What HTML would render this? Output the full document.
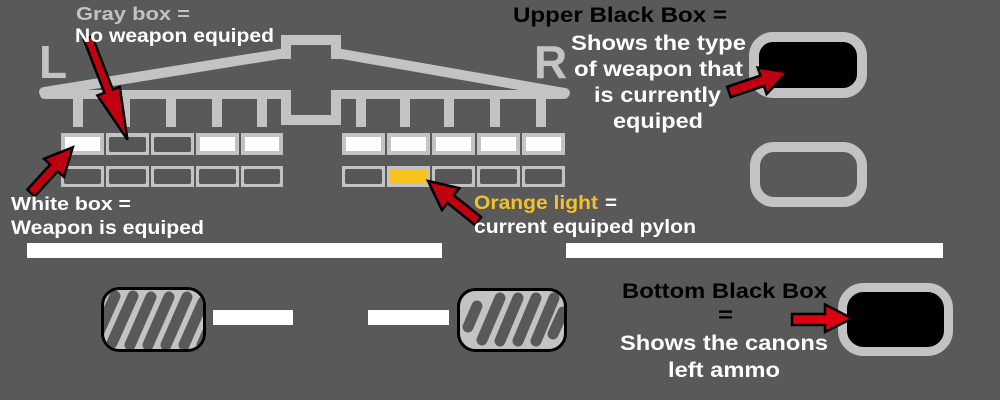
<!DOCTYPE html>
<html>
<head>
<meta charset="utf-8">
<style>
  html,body{margin:0;padding:0;background:#595959;}
  svg{display:block;}
  text{font-family:"Liberation Sans",Arial,sans-serif;font-weight:bold;}
</style>
</head>
<body>
<svg width="1000" height="400" viewBox="0 0 1000 400" xmlns="http://www.w3.org/2000/svg">
  <defs>
    <clipPath id="cl"><rect x="104" y="290" width="99" height="59" rx="15"/></clipPath>
    <clipPath id="cr"><rect x="460" y="291" width="104" height="58" rx="15"/></clipPath>
  </defs>
  <rect x="0" y="0" width="1000" height="400" fill="#595959"/>

  <!-- L / R -->
  <text x="39" y="78" font-size="46" fill="#c3c3c3">L</text>
  <text x="534" y="78" font-size="46" fill="#c3c3c3">R</text>

  <!-- pylon structure -->
  <g fill="#c3c3c3">
    <line x1="44" y1="92" x2="286" y2="53" stroke="#c3c3c3" stroke-width="10" stroke-linecap="round"/>
    <line x1="336" y1="53" x2="565" y2="93" stroke="#c3c3c3" stroke-width="10" stroke-linecap="round"/>
    <rect x="281" y="35" width="60" height="10"/>
    <rect x="281" y="35" width="10" height="24"/>
    <rect x="331" y="35" width="10" height="24"/>
    <rect x="40" y="90" width="251" height="9" rx="4.5"/>
    <rect x="331" y="90" width="238" height="9" rx="4.5"/>
    <rect x="281" y="90" width="10" height="35"/>
    <rect x="331" y="90" width="10" height="35"/>
    <rect x="281" y="115" width="60" height="10"/>
    <!-- stems -->
    <rect x="73" y="98" width="10" height="29"/>
    <rect x="120" y="98" width="10" height="29"/>
    <rect x="166" y="98" width="10" height="29"/>
    <rect x="212" y="98" width="10" height="29"/>
    <rect x="257" y="98" width="10" height="29"/>
    <rect x="356" y="98" width="10" height="29"/>
    <rect x="400" y="98" width="10" height="29"/>
    <rect x="444" y="98" width="10" height="29"/>
    <rect x="490" y="98" width="10" height="29"/>
    <rect x="536" y="98" width="10" height="29"/>
  </g>

  <!-- boxes row 1 -->
  <g>
    <rect x="61" y="133" width="43" height="22" fill="#c3c3c3"/><rect x="65" y="137" width="35" height="14" fill="#ffffff"/>
    <rect x="106" y="133" width="43" height="22" fill="#c3c3c3"/><rect x="109" y="137" width="37" height="15" rx="2" fill="#565656"/>
    <rect x="151" y="133" width="43" height="22" fill="#c3c3c3"/><rect x="154" y="137" width="37" height="15" rx="2" fill="#565656"/>
    <rect x="196" y="133" width="43" height="22" fill="#c3c3c3"/><rect x="200" y="137" width="35" height="14" fill="#ffffff"/>
    <rect x="241" y="133" width="42" height="22" fill="#c3c3c3"/><rect x="245" y="137" width="34" height="14" fill="#ffffff"/>

    <rect x="342" y="133" width="43" height="22" fill="#c3c3c3"/><rect x="346" y="137" width="35" height="14" fill="#ffffff"/>
    <rect x="387" y="133" width="43" height="22" fill="#c3c3c3"/><rect x="391" y="137" width="35" height="14" fill="#ffffff"/>
    <rect x="432" y="133" width="43" height="22" fill="#c3c3c3"/><rect x="436" y="137" width="35" height="14" fill="#ffffff"/>
    <rect x="477" y="133" width="43" height="22" fill="#c3c3c3"/><rect x="481" y="137" width="35" height="14" fill="#ffffff"/>
    <rect x="522" y="133" width="43" height="22" fill="#c3c3c3"/><rect x="526" y="137" width="35" height="14" fill="#ffffff"/>
  </g>
  <!-- boxes row 2 -->
  <g>
    <rect x="61" y="166" width="43" height="21" fill="#c3c3c3"/><rect x="64" y="169" width="37" height="15" rx="2" fill="#565656"/>
    <rect x="106" y="166" width="43" height="21" fill="#c3c3c3"/><rect x="109" y="169" width="37" height="15" rx="2" fill="#565656"/>
    <rect x="151" y="166" width="43" height="21" fill="#c3c3c3"/><rect x="154" y="169" width="37" height="15" rx="2" fill="#565656"/>
    <rect x="196" y="166" width="43" height="21" fill="#c3c3c3"/><rect x="199" y="169" width="37" height="15" rx="2" fill="#565656"/>
    <rect x="241" y="166" width="42" height="21" fill="#c3c3c3"/><rect x="244" y="169" width="36" height="15" rx="2" fill="#565656"/>

    <rect x="342" y="166" width="43" height="21" fill="#c3c3c3"/><rect x="345" y="169" width="37" height="15" rx="2" fill="#565656"/>
    <rect x="387" y="166" width="43" height="21" fill="#c3c3c3"/><rect x="390" y="169" width="37" height="15" fill="#f7c21c"/>
    <rect x="432" y="166" width="43" height="21" fill="#c3c3c3"/><rect x="435" y="169" width="37" height="15" rx="2" fill="#565656"/>
    <rect x="477" y="166" width="43" height="21" fill="#c3c3c3"/><rect x="480" y="169" width="37" height="15" rx="2" fill="#565656"/>
    <rect x="522" y="166" width="43" height="21" fill="#c3c3c3"/><rect x="525" y="169" width="37" height="15" rx="2" fill="#565656"/>
  </g>

  <!-- right boxes -->
  <rect x="754" y="37" width="108" height="56" rx="19" fill="#000" stroke="#c3c3c3" stroke-width="10"/>
  <rect x="755" y="147" width="107" height="55" rx="19" fill="none" stroke="#c3c3c3" stroke-width="10"/>
  <rect x="842.5" y="287.5" width="106" height="64" rx="21" fill="#000" stroke="#c3c3c3" stroke-width="9"/>

  <!-- white bars -->
  <rect x="27" y="243" width="415" height="15" fill="#ffffff"/>
  <rect x="566" y="243" width="377" height="15" fill="#ffffff"/>
  <rect x="213" y="310" width="80" height="15" fill="#ffffff"/>
  <rect x="368" y="310" width="81" height="15" fill="#ffffff"/>

  <!-- wheels -->
  <rect x="102.5" y="288.5" width="102" height="62" rx="17" fill="#c3c3c3" stroke="#000" stroke-width="3"/>
  <g clip-path="url(#cl)" stroke="#595959" stroke-width="11" stroke-linecap="round">
    <line x1="94" y1="343" x2="115" y2="296"/>
    <line x1="112" y1="343" x2="133" y2="296"/>
    <line x1="130" y1="345" x2="151" y2="297"/>
    <line x1="148" y1="345" x2="169" y2="297"/>
    <line x1="166" y1="345" x2="187" y2="297"/>
    <line x1="184" y1="345" x2="203" y2="302"/>
    <line x1="202" y1="345" x2="215" y2="315"/>
  </g>
  <rect x="458.5" y="289.5" width="107" height="61" rx="17" fill="#c3c3c3" stroke="#000" stroke-width="3"/>
  <g clip-path="url(#cr)" stroke="#595959" stroke-width="11" stroke-linecap="round">
    <line x1="468" y1="327" x2="477" y2="306"/>
    <line x1="482" y1="340" x2="500" y2="298"/>
    <line x1="500" y1="341" x2="518" y2="298"/>
    <line x1="518" y1="341" x2="536" y2="298"/>
    <line x1="536" y1="341" x2="554" y2="298"/>
    <line x1="553" y1="334" x2="563" y2="312"/>
  </g>

  <!-- arrows -->
  <g stroke="#000" stroke-width="2.5" stroke-linejoin="miter" fill="#bf0010">
    <!-- gray box arrow -->
    <polygon transform="translate(88,38) rotate(68.8)" points="0,-4.5 57,-4.5 57,-12 109,0 57,12 57,4.5 0,4.5"/>
    <!-- white box arrow -->
    <polygon transform="translate(31,193) rotate(-47.6)" points="0,-5 34,-5 34,-13.5 62,0 34,13.5 34,5 0,5"/>
    <!-- orange arrow -->
    <polygon transform="translate(478,221) rotate(218.7)" points="0,-5 35,-5 35,-14 64,0 35,14 35,5 0,5"/>
    <!-- upper black box arrow -->
    <polygon transform="translate(729,92) rotate(-18.7)" points="0,-5.5 35,-5.5 35,-14 62,0 35,14 35,5.5 0,5.5"/>
  </g>
  <polygon points="792,314 825,314 825,304.5 852,318.5 825,332 825,325 792,325" fill="#dd0010" stroke="#000" stroke-width="2.5"/>

  <!-- texts -->
  <text x="76" y="20" font-size="18" fill="#c3c3c3" textLength="114" lengthAdjust="spacingAndGlyphs">Gray box  =</text>
  <text x="75" y="42" font-size="19" fill="#ffffff" textLength="199" lengthAdjust="spacingAndGlyphs">No weapon equiped</text>
  <text x="11" y="210" font-size="18" fill="#ffffff" textLength="120" lengthAdjust="spacingAndGlyphs">White box =</text>
  <text x="11" y="234" font-size="19" fill="#ffffff" textLength="193" lengthAdjust="spacingAndGlyphs">Weapon is equiped</text>
  <text x="474" y="209" font-size="19" fill="#f2c12e" textLength="124" lengthAdjust="spacingAndGlyphs">Orange light</text>
  <text x="605" y="209" font-size="19" fill="#ffffff" textLength="12" lengthAdjust="spacingAndGlyphs">=</text>
  <text x="474" y="233" font-size="19" fill="#ffffff" textLength="222" lengthAdjust="spacingAndGlyphs">current equiped pylon</text>

  <text x="513" y="22" font-size="21" fill="#000000" textLength="214" lengthAdjust="spacingAndGlyphs">Upper  Black Box =</text>
  <text x="571" y="50" font-size="21" fill="#ffffff" textLength="175" lengthAdjust="spacingAndGlyphs">Shows the type</text>
  <text x="574" y="76" font-size="21" fill="#ffffff" textLength="169" lengthAdjust="spacingAndGlyphs">of weapon that</text>
  <text x="594" y="102" font-size="21" fill="#ffffff" textLength="127" lengthAdjust="spacingAndGlyphs">is currently</text>
  <text x="613" y="128" font-size="21" fill="#ffffff" textLength="90" lengthAdjust="spacingAndGlyphs">equiped</text>

  <text x="622" y="298" font-size="21" fill="#000000" textLength="205" lengthAdjust="spacingAndGlyphs">Bottom Black Box</text>
  <text x="718" y="322" font-size="21" fill="#000000" textLength="15" lengthAdjust="spacingAndGlyphs">=</text>
  <text x="620" y="350" font-size="21" fill="#ffffff" textLength="208" lengthAdjust="spacingAndGlyphs">Shows the canons</text>
  <text x="668" y="377" font-size="21" fill="#ffffff" textLength="112" lengthAdjust="spacingAndGlyphs">left ammo</text>
</svg>
</body>
</html>
